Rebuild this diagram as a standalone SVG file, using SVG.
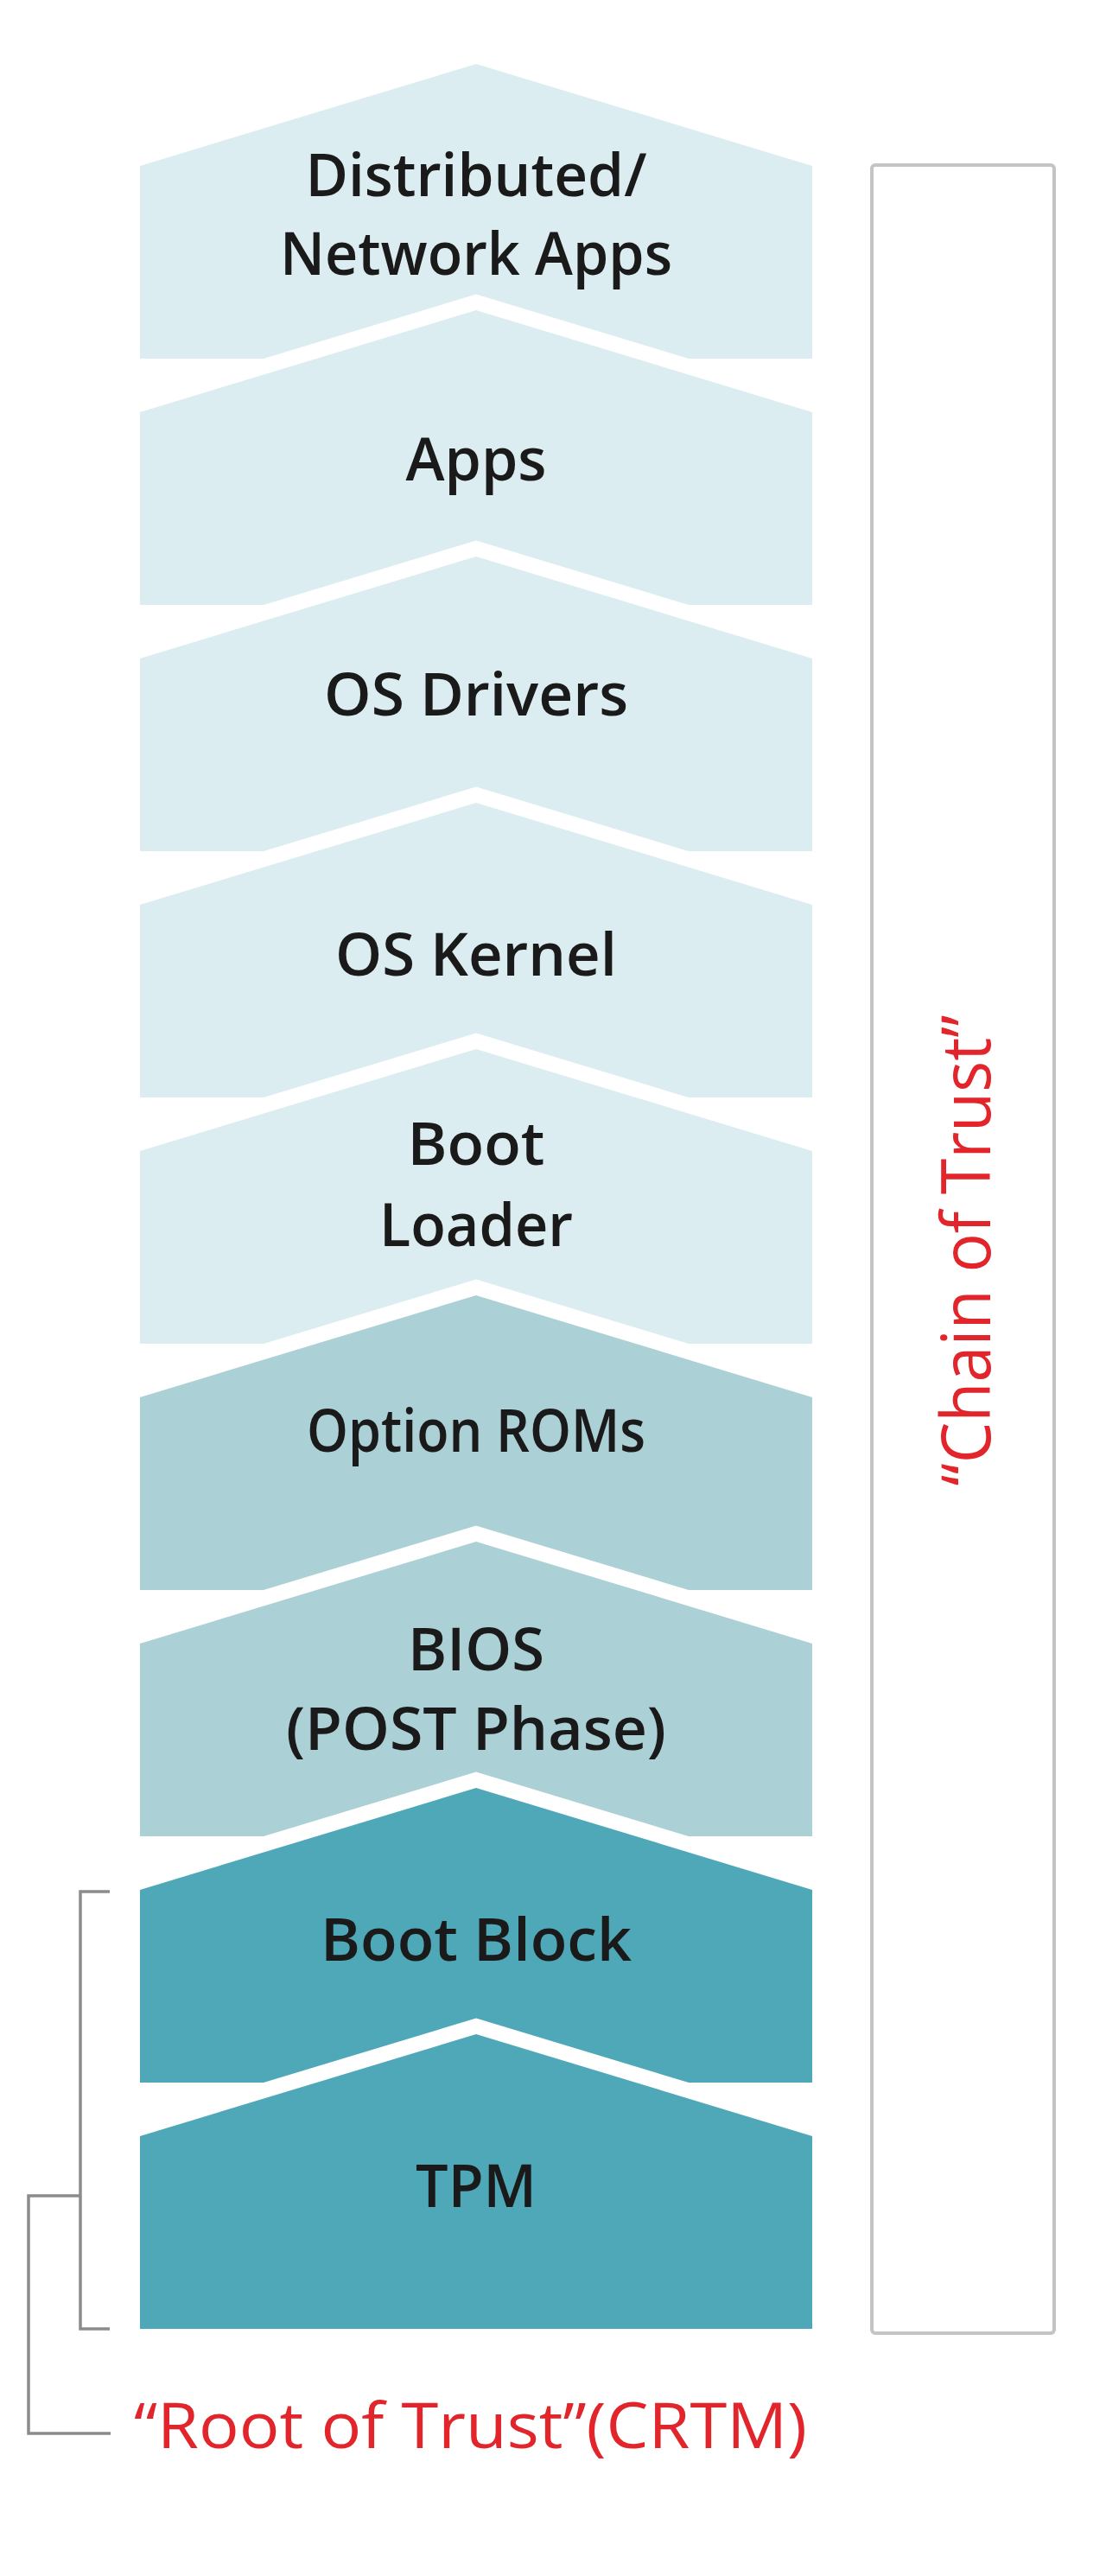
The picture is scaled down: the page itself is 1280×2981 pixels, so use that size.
<svg xmlns="http://www.w3.org/2000/svg" width="1280" height="2981" viewBox="0 0 1280 2981">
  <style>
    .c1 { fill: #dbedf0; }
    .c2 { fill: #abd0d5; }
    .c3 { fill: #4fa8b8; }
    .lbl { font-family: "Open Sans", "Liberation Sans", sans-serif; font-weight: 600; font-size: 68px; fill: #1a1a1a; text-anchor: middle; }
    .red { font-family: "Open Sans", "Liberation Sans", sans-serif; font-weight: 400; fill: #e1252b; }
    .brk { fill: none; stroke: #8c8c8c; stroke-width: 3.5; }
  </style>
  <rect x="0" y="0" width="1280" height="2981" fill="#ffffff"/>

  <g id="node-distributed">
    <path class="c1" d="M162,192 L551,74 L940,192 L940,415 L797,415 L551,340.5 L305,415 L162,415 Z"/>
    <text class="lbl" x="551" y="227" textLength="395" lengthAdjust="spacingAndGlyphs">Distributed/</text>
    <text class="lbl" x="551" y="318" textLength="454" lengthAdjust="spacingAndGlyphs">Network Apps</text>
  </g>
  <g id="node-apps">
    <path class="c1" d="M162,477 L551,359 L940,477 L940,700 L797,700 L551,625.5 L305,700 L162,700 Z"/>
    <text class="lbl" x="551" y="556" textLength="163" lengthAdjust="spacingAndGlyphs">Apps</text>
  </g>
  <g id="node-os-drivers">
    <path class="c1" d="M162,762 L551,644 L940,762 L940,985 L797,985 L551,910.5 L305,985 L162,985 Z"/>
    <text class="lbl" x="551" y="828" textLength="352" lengthAdjust="spacingAndGlyphs">OS Drivers</text>
  </g>
  <g id="node-os-kernel">
    <path class="c1" d="M162,1047 L551,929 L940,1047 L940,1270 L797,1270 L551,1195.5 L305,1270 L162,1270 Z"/>
    <text class="lbl" x="551" y="1129" textLength="326" lengthAdjust="spacingAndGlyphs">OS Kernel</text>
  </g>
  <g id="node-boot-loader">
    <path class="c1" d="M162,1332 L551,1214 L940,1332 L940,1555 L797,1555 L551,1480.5 L305,1555 L162,1555 Z"/>
    <text class="lbl" x="551" y="1348" textLength="159" lengthAdjust="spacingAndGlyphs">Boot</text>
    <text class="lbl" x="551" y="1442" textLength="224" lengthAdjust="spacingAndGlyphs">Loader</text>
  </g>
  <g id="node-option-roms">
    <path class="c2" d="M162,1617 L551,1499 L940,1617 L940,1840 L797,1840 L551,1765.5 L305,1840 L162,1840 Z"/>
    <text class="lbl" x="551" y="1680" textLength="392" lengthAdjust="spacingAndGlyphs">Option ROMs</text>
  </g>
  <g id="node-bios">
    <path class="c2" d="M162,1902 L551,1784 L940,1902 L940,2125 L797,2125 L551,2050.5 L305,2125 L162,2125 Z"/>
    <text class="lbl" x="551" y="1933" textLength="158" lengthAdjust="spacingAndGlyphs">BIOS</text>
    <text class="lbl" x="551" y="2025" textLength="440" lengthAdjust="spacingAndGlyphs">(POST Phase)</text>
  </g>
  <g id="node-boot-block">
    <path class="c3" d="M162,2187 L551,2069 L940,2187 L940,2410 L797,2410 L551,2335.5 L305,2410 L162,2410 Z"/>
    <text class="lbl" x="551" y="2269" textLength="360" lengthAdjust="spacingAndGlyphs">Boot Block</text>
  </g>
  <g id="node-tpm">
    <path class="c3" d="M162,2472 L551,2354 L940,2472 L940,2695 L162,2695 Z"/>
    <text class="lbl" x="551" y="2554" textLength="140" lengthAdjust="spacingAndGlyphs">TPM</text>
  </g>

  <g id="chain-of-trust">
    <rect x="1009" y="191" width="211" height="2509" rx="4" fill="none" stroke="#c4c4c4" stroke-width="4"/>
    <text class="red" font-size="78" text-anchor="middle" transform="translate(1146,1447) rotate(-90)" textLength="545" lengthAdjust="spacingAndGlyphs">“Chain of Trust”</text>
  </g>

  <g id="connectors">
    <path class="brk" d="M127,2189 L93,2189 L93,2695 L127,2695"/>
    <path class="brk" d="M93,2541 L33,2541 L33,2816 L128,2816"/>
  </g>

  <g id="root-of-trust">
    <text class="red" font-size="74" x="155" y="2833" textLength="779" lengthAdjust="spacingAndGlyphs">“Root of Trust”(CRTM)</text>
  </g>
</svg>
